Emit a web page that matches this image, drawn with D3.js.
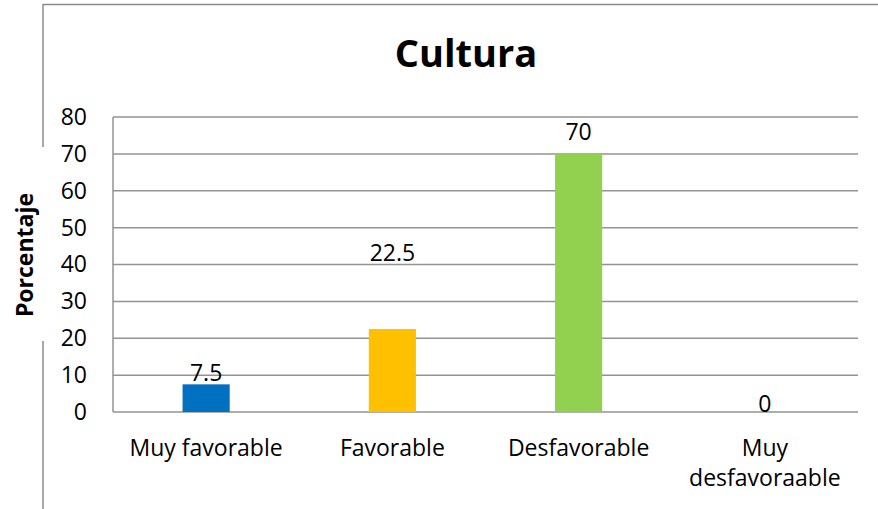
<!DOCTYPE html>
<html>
<head>
<meta charset="utf-8">
<script src="https://cdn.jsdelivr.net/npm/d3@7"></script>
<style>
  html, body { margin: 0; padding: 0; background: #fff; }
  svg { display: block; font-family: "Open Sans", Lato, sans-serif; }
</style>
</head>
<body>
<svg id="chart" width="878" height="509"></svg>
<script>
// Chart data
const categories = ["Muy favorable", "Favorable", "Desfavorable", "Muy desfavoraable"];
const values = [7.5, 22.5, 70, 0];
const labelValues = [7.5, 22.5, 70, 0];
const labelOffsets = [0.8, 18.4, 3.8, 0]; // lift of each value label above its bar, in data units
const barColors = ["#0070C0", "#FFC000", "#92D050", "#A5A5A5"];
const yTicks = [0, 10, 20, 30, 40, 50, 60, 70, 80];
const title = "Cultura";
const yTitle = "Porcentaje";

const svg = d3.select("#chart");
const W = 878, H = 509;
const m = { left: 113, right: 20, top: 117, bottom: 97 };
const FS = 23;

// Frame of the chart area (top and left sides only)
const frame = svg.append("g").attr("stroke", "#8c8c8c").attr("stroke-width", 1.5);
frame.append("line").attr("x1", 43).attr("x2", W).attr("y1", 4.5).attr("y2", 4.5);
frame.append("line").attr("x1", 43).attr("x2", 43).attr("y1", 4).attr("y2", 147);
frame.append("line").attr("x1", 43).attr("x2", 43).attr("y1", 341).attr("y2", H);

const x = d3.scaleBand().domain(categories).range([m.left, W - m.right]).padding(0);
const y = d3.scaleLinear().domain([0, 80]).range([H - m.bottom, m.top]);

// Gridlines
svg.append("g")
  .selectAll("line").data(yTicks).join("line")
  .attr("x1", m.left).attr("x2", W - m.right)
  .attr("y1", d => y(d)).attr("y2", d => y(d))
  .attr("stroke", "#939393").attr("stroke-width", 1.5);

// Y axis line
svg.append("line")
  .attr("x1", m.left).attr("x2", m.left)
  .attr("y1", y(80)).attr("y2", y(0))
  .attr("stroke", "#939393").attr("stroke-width", 1.5);

// Y tick labels
const yAxis = d3.axisLeft(y).tickValues(yTicks).tickSize(0).tickPadding(26);
const yg = svg.append("g").attr("transform", `translate(${m.left},0)`).call(yAxis);
yg.select(".domain").remove();
yg.selectAll("text").attr("font-size", FS).attr("fill", "#000")
  .attr("font-family", "'Open Sans', sans-serif");

// Bars
const bw = x.bandwidth() * 0.253;
svg.append("g")
  .selectAll("rect").data(values).join("rect")
  .attr("x", (d, i) => x(categories[i]) + x.bandwidth() / 2 - bw / 2)
  .attr("width", bw)
  .attr("y", d => y(d))
  .attr("height", d => y(0) - y(d))
  .attr("fill", (d, i) => barColors[i]);

// Value labels
svg.append("g")
  .selectAll("text").data(labelValues).join("text")
  .attr("x", (d, i) => x(categories[i]) + x.bandwidth() / 2)
  .attr("y", (d, i) => y(d + labelOffsets[i]))
  .attr("text-anchor", "middle")
  .attr("font-size", FS)
  .attr("fill", "#000")
  .text(d => d);

// Category labels (wrapped)
const catLines = { "Muy desfavoraable": ["Muy", "desfavoraable"] };
const cg = svg.append("g");
categories.forEach(c => {
  const lines = catLines[c] || [c];
  const cx = x(c) + x.bandwidth() / 2;
  const t = cg.append("text")
    .attr("x", cx)
    .attr("y", 456)
    .attr("text-anchor", "middle")
    .attr("font-size", FS)
    .attr("fill", "#000");
  lines.forEach((ln, k) => {
    t.append("tspan").attr("x", cx).attr("dy", k === 0 ? 0 : 30).text(ln);
  });
});

// Title
svg.append("text")
  .attr("x", 466).attr("y", 67)
  .attr("text-anchor", "middle")
  .attr("font-size", 38).attr("font-weight", "bold")
  .text(title);

// Y axis title
svg.append("text")
  .attr("transform", "translate(33,255) rotate(-90)")
  .attr("text-anchor", "middle")
  .attr("font-size", FS).attr("font-weight", "bold")
  .text(yTitle);
</script>
</body>
</html>
